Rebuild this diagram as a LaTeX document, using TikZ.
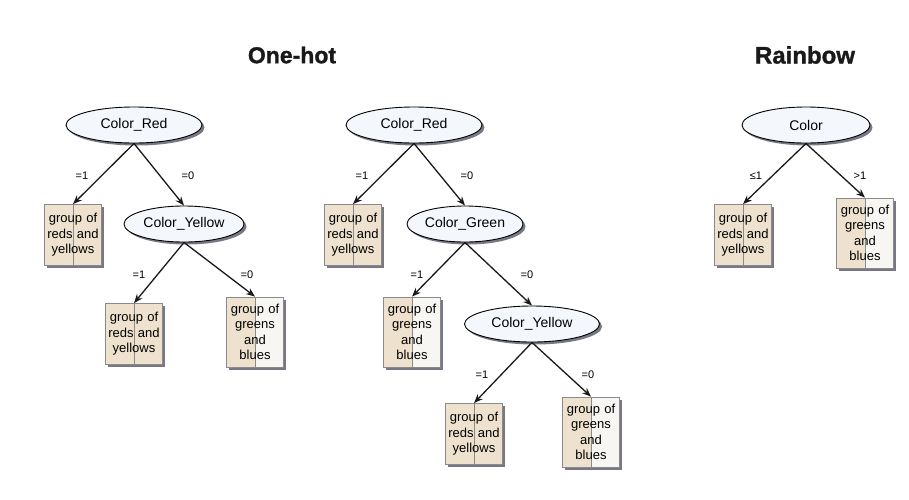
\documentclass[tikz,border=0pt]{standalone}
\usepackage{fontspec}
\setmainfont{Liberation Sans}
\newfontfamily\ttlfont[FakeBold=1.2]{Liberation Sans Bold}
\usetikzlibrary{shapes.geometric,arrows.meta,shadows}
\definecolor{ellfill}{HTML}{F4F7FC}
\definecolor{beige}{HTML}{EEE2CE}
\definecolor{boxline}{HTML}{8A8A8A}
\definecolor{lightfill}{HTML}{F8F6F2}
\definecolor{shadowc}{HTML}{4A4A5C}
\tikzset{
  shad/.style={drop shadow={shadow xshift=2.5pt,shadow yshift=-2.5pt,fill=shadowc,opacity=0.75}},
  ell/.style={ellipse,draw=black,line width=0.9pt,fill=ellfill,shad,
    font=\fontsize{14}{16}\selectfont,minimum height=36pt,inner sep=0pt},
  leaf/.style={rectangle,draw=boxline,line width=0.8pt,fill=beige,shad,text width=57pt,
    inner sep=0pt,align=center,font=\fontsize{13}{15.5}\selectfont,minimum height=61pt},
  rleaf/.style={leaf,path picture={\draw[boxline,line width=0.8pt]
    (path picture bounding box.north) -- (path picture bounding box.south);}},
  gleaf/.style={leaf,minimum height=70pt,path picture={
    \fill[lightfill] (path picture bounding box.north) rectangle (path picture bounding box.south east);
    \draw[boxline,line width=0.8pt] (path picture bounding box.north) -- (path picture bounding box.south);}},
  arr/.style={-{Stealth[length=9pt,width=7pt]},line width=1.3pt,draw=black!90},
  lab/.style={font=\fontsize{11}{13}\selectfont,inner sep=0pt},
  ttl/.style={font=\fontsize{23}{26}\ttlfont,inner sep=0pt,text=black!90}
}
\begin{document}
\begin{tikzpicture}[x=1pt,y=-1pt]
\useasboundingbox (0,0) rectangle (909,499);
% titles
\node[ttl] (t1) at (292,55) {One-hot};
\node[ttl,font=\fontsize{24}{27}\ttlfont] (t2) at (805,55) {Rainbow};
% tree 1
\node[ell,minimum width=136pt] (r1) at (134,125) {Color\_Red};
\node[rleaf] (l1) at (73,235) {group of reds and yellows};
\node[ell,minimum width=120pt] (y1) at (184,224) {Color\_Yellow};
\node[rleaf] (l2) at (134,334) {group of reds and yellows};
\node[gleaf] (g1) at (255,332) {group of greens and blues};
\draw[arr] (r1.south) -- (l1.north);
\draw[arr] (r1.south) -- (y1.north);
\draw[arr] (y1.south) -- (l2.north);
\draw[arr] (y1.south) -- (g1.north);
\node[lab] at (82,176) {=1};
\node[lab] at (188,176) {=0};
\node[lab] at (139,275) {=1};
\node[lab] at (247,275) {=0};
% tree 2
\node[ell,minimum width=136pt] (r2) at (414,125) {Color\_Red};
\node[rleaf] (l3) at (353,235) {group of reds and yellows};
\node[ell,minimum width=116pt] (gr2) at (465,224) {Color\_Green};
\node[gleaf] (g2) at (412,332) {group of greens and blues};
\node[ell,minimum width=135pt] (y2) at (532,324) {Color\_Yellow};
\node[rleaf] (l4) at (474,434) {group of reds and yellows};
\node[gleaf] (g3) at (591,432) {group of greens and blues};
\draw[arr] (r2.south) -- (l3.north);
\draw[arr] (r2.south) -- (gr2.north);
\draw[arr] (gr2.south) -- (g2.north);
\draw[arr] (gr2.south) -- (y2.north);
\draw[arr] (y2.south) -- (l4.north);
\draw[arr] (y2.south) -- (g3.north);
\node[lab] at (362,176) {=1};
\node[lab] at (467,176) {=0};
\node[lab] at (417,275) {=1};
\node[lab] at (527,275) {=0};
\node[lab] at (482,375) {=1};
\node[lab] at (588,375) {=0};
% tree 3
\node[ell,minimum width=128pt] (c3) at (806,125) {Color};
\node[rleaf] (l5) at (743,235) {group of reds and yellows};
\node[gleaf] (g4) at (865,233) {group of greens and blues};
\draw[arr] (c3.south) -- (l5.north);
\draw[arr] (c3.south) -- (g4.north);
\node[lab] at (756,176) {≤1};
\node[lab] at (860,176) {>1};
\end{tikzpicture}
\end{document}
